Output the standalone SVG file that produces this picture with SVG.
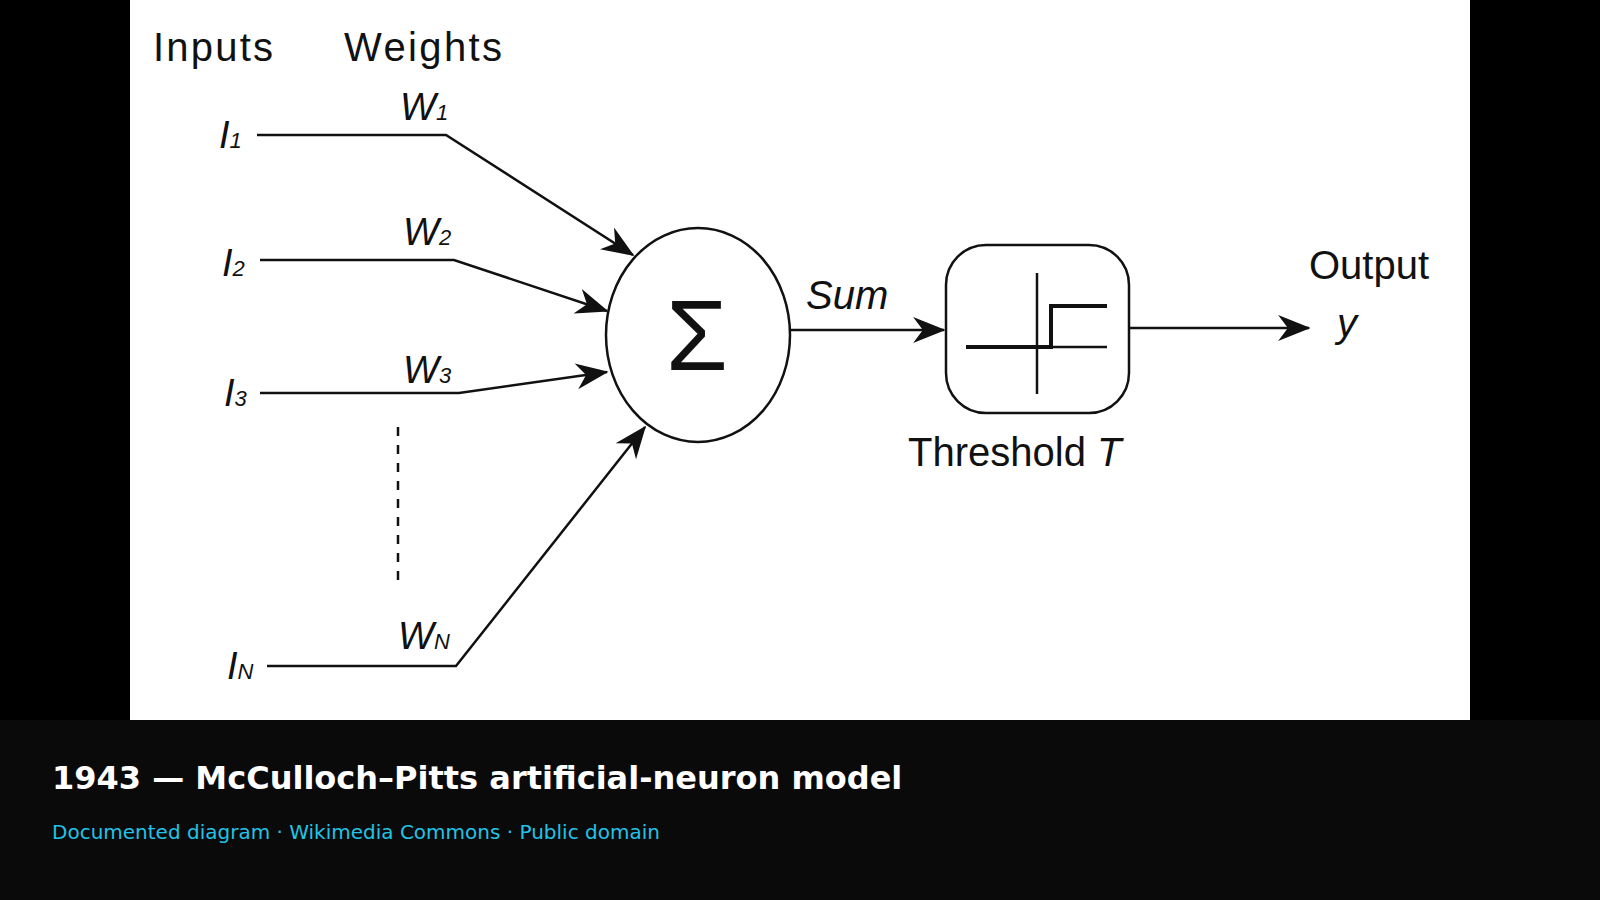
<svg xmlns="http://www.w3.org/2000/svg" width="1600" height="900" viewBox="0 0 1600 900">
<defs>
<style>
.t{font-family:"Liberation Sans",Arial,sans-serif;fill:#111}
.i{font-style:italic}
.ln{stroke:#111;stroke-width:2.5;fill:none}
</style>
<marker id="ah" viewBox="0 0 20 16" refX="19" refY="8" markerWidth="20" markerHeight="16" markerUnits="userSpaceOnUse" orient="auto">
<path d="M0,0 L20,8 L0,16 L6,8 Z" fill="#111"/>
</marker>
<marker id="ahb" viewBox="0 0 20 16" refX="19" refY="8" markerWidth="36" markerHeight="26" markerUnits="userSpaceOnUse" orient="auto">
<path d="M0,0 L20,8 L0,16 L6,8 Z" fill="#111"/>
</marker>
</defs>
<rect width="1600" height="900" fill="#000"/>
<rect x="130" y="0" width="1340" height="720" fill="#fff"/>
<rect x="0" y="720" width="1600" height="180" fill="#0a0a0a"/>
<g id="headers">
<text class="t" x="153" y="61" font-size="40" textLength="120">Inputs</text>
<text class="t" x="344" y="61" font-size="40" textLength="158">Weights</text>
</g>
<g id="inputs" class="t i" font-size="38">
<text x="219" y="148">I<tspan font-size="22">1</tspan></text>
<text x="222" y="276">I<tspan font-size="22">2</tspan></text>
<text x="224" y="406">I<tspan font-size="22">3</tspan></text>
<text x="227" y="679">I<tspan font-size="22">N</tspan></text>
<text x="400" y="120">W<tspan font-size="22">1</tspan></text>
<text x="403" y="245">W<tspan font-size="22">2</tspan></text>
<text x="403" y="383">W<tspan font-size="22">3</tspan></text>
<text x="398" y="649">W<tspan font-size="22">N</tspan></text>
</g>
<g id="connectors">
<polyline class="ln" points="257,135 446,135 633,255" marker-end="url(#ahb)"/>
<polyline class="ln" points="260,260 454,260 607,311" marker-end="url(#ahb)"/>
<polyline class="ln" points="260,393 459,393 607,372" marker-end="url(#ahb)"/>
<polyline class="ln" points="267,666 456,666 645,427" marker-end="url(#ahb)"/>
<line class="ln" x1="398" y1="427" x2="398" y2="582" stroke-dasharray="9,9"/>
<line class="ln" x1="791" y1="330" x2="944" y2="330" marker-end="url(#ahb)"/>
<line class="ln" x1="1129" y1="328" x2="1309" y2="328" marker-end="url(#ahb)"/>
</g>
<g id="sum">
<ellipse class="ln" cx="698" cy="335" rx="92" ry="107"/>
<text class="t" x="697" y="370" font-size="100" text-anchor="middle">Σ</text>
<text class="t i" x="806" y="309" font-size="40">Sum</text>
</g>
<g id="threshold">
<rect class="ln" x="946" y="245" width="183" height="168" rx="40"/>
<line class="ln" x1="1037" y1="273" x2="1037" y2="394"/>
<line class="ln" x1="966" y1="347" x2="1107" y2="347"/>
<polyline points="966,347 1051,347 1051,306 1107,306" fill="none" stroke="#111" stroke-width="4"/>
<text class="t" x="908" y="466" font-size="40">Threshold <tspan class="i">T</tspan></text>
</g>
<g id="output">
<text class="t" x="1309" y="279" font-size="40">Output</text>
<text class="t i" x="1337" y="337" font-size="40">y</text>
</g>
<g id="caption">
<text x="52" y="789" font-family="DejaVu Sans,sans-serif" font-weight="bold" font-size="32" fill="#fff">1943 — McCulloch–Pitts artificial-neuron model</text>
<text x="52" y="839" font-family="DejaVu Sans,sans-serif" font-size="20" fill="#22c3e6">Documented diagram · Wikimedia Commons · Public domain</text>
</g>
</svg>
